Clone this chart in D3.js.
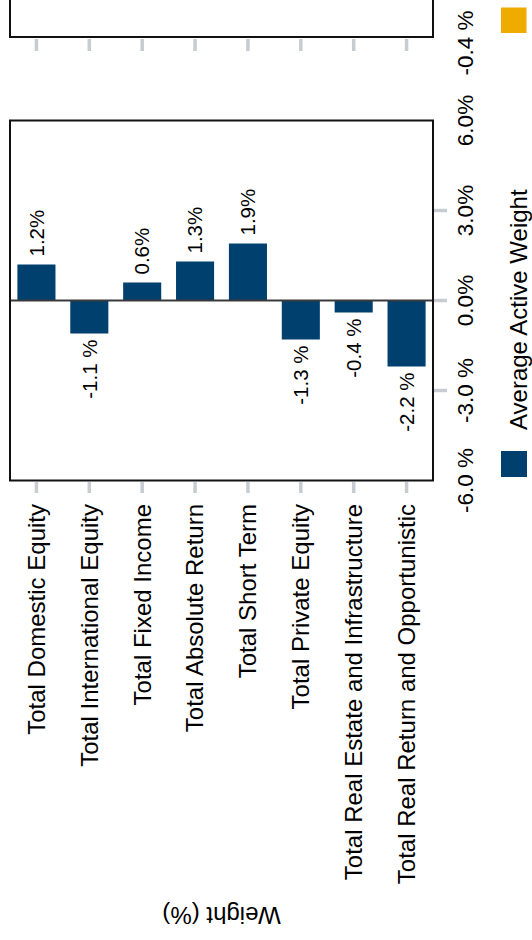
<!DOCTYPE html>
<html>
<head>
<meta charset="utf-8">
<script src="https://cdn.jsdelivr.net/npm/d3@7"></script>
<style>
  html, body { margin: 0; padding: 0; background: #fff; }
  svg { display: block; font-family: "Liberation Sans", Arial, sans-serif; }
</style>
</head>
<body>
<svg id="chart" width="532" height="940"></svg>
<script>
// Asset classes and their average active weight (%)
const categories = [
  "Total Domestic Equity",
  "Total International Equity",
  "Total Fixed Income",
  "Total Absolute Return",
  "Total Short Term",
  "Total Private Equity",
  "Total Real Estate and Infrastructure",
  "Total Real Return and Opportunistic"
];
const activeWeight = [1.2, -1.1, 0.6, 1.3, 1.9, -1.3, -0.4, -2.2];

// Value axis ticks and their labels
const yTicks = [-6, -3, 0, 3, 6];
const yTickLabels = ["-6.0 %", "-3.0 %", "0.0%", "3.0%", "6.0%"];

// Upper panel (only its lower edge is in view)
const upperTickLabel = "-0.4 %";

const seriesNames = ["Average Active Weight"];
const seriesColors = ["#00406F", "#F0AB00"];
const axisTitle = "Weight (%)";

(function draw() {
  const svg = d3.select("#chart");
  svg.append("rect").attr("width", 532).attr("height", 940).attr("fill", "#fff");

  const plotLeft = 10, plotRight = 433, plotTop = 120.5, plotBottom = 480.5;

  const x = d3.scaleBand()
    .domain(categories)
    .range([plotLeft, plotRight])
    .paddingInner(0.28)
    .paddingOuter(0.14);

  const y = d3.scaleLinear().domain([-6, 6]).range([plotBottom, plotTop]);

  const fmt = v => v < 0 ? `${v.toFixed(1)} %` : `${v.toFixed(1)}%`;
  const cx = d => x(d) + x.bandwidth() / 2;

  // ---- upper panel: bottom edge of frame, ticks, label, legend swatch
  svg.append("path")
    .attr("d", `M${plotLeft},-5V37H${plotRight}V-5`)
    .attr("fill", "none").attr("stroke", "#111").attr("stroke-width", 2);

  svg.append("g").selectAll("line")
    .data(categories).join("line")
    .attr("x1", cx).attr("x2", cx)
    .attr("y1", 39).attr("y2", 51)
    .attr("stroke", "#c6ccd2").attr("stroke-width", 3.5);

  svg.append("text")
    .attr("transform", "translate(465,43) rotate(-90)")
    .attr("text-anchor", "middle").attr("dy", "0.35em")
    .attr("font-size", 22.5).attr("fill", "#000")
    .text(upperTickLabel);

  svg.append("rect")
    .attr("x", 501).attr("y", 7.5).attr("width", 25.5).attr("height", 25.5)
    .attr("fill", seriesColors[1]);

  // ---- main panel
  const g = svg.append("g");

  // bars
  g.selectAll("rect.bar")
    .data(categories).join("rect")
    .attr("class", "bar")
    .attr("x", d => x(d))
    .attr("width", x.bandwidth())
    .attr("y", (d, i) => y(Math.max(0, activeWeight[i])))
    .attr("height", (d, i) => Math.abs(y(activeWeight[i]) - y(0)))
    .attr("fill", seriesColors[0]);

  // zero line
  g.append("line")
    .attr("x1", plotLeft).attr("x2", plotRight)
    .attr("y1", y(0)).attr("y2", y(0))
    .attr("stroke", "#3a3a3a").attr("stroke-width", 2);

  // frame
  g.append("rect")
    .attr("x", plotLeft).attr("y", plotTop)
    .attr("width", plotRight - plotLeft).attr("height", plotBottom - plotTop)
    .attr("fill", "none").attr("stroke", "#111").attr("stroke-width", 2);

  // value labels
  g.selectAll("text.val")
    .data(categories).join("text")
    .attr("class", "val")
    .attr("transform", (d, i) => {
      const v = activeWeight[i];
      const yy = v >= 0 ? y(v) - 8 : y(v) + 6;
      return `translate(${cx(d)},${yy}) rotate(-90)`;
    })
    .attr("text-anchor", (d, i) => activeWeight[i] >= 0 ? "start" : "end")
    .attr("dy", "0.35em")
    .attr("font-size", 20.5).attr("fill", "#000")
    .text((d, i) => fmt(activeWeight[i]));

  // value axis ticks (right side)
  g.selectAll("line.ytick")
    .data(yTicks.filter(t => Math.abs(t) < 6)).join("line")
    .attr("class", "ytick")
    .attr("x1", plotRight + 1).attr("x2", plotRight + 14)
    .attr("y1", d => y(d)).attr("y2", d => y(d))
    .attr("stroke", "#c6ccd2").attr("stroke-width", 3.5);

  g.selectAll("text.ylab")
    .data(yTicks).join("text")
    .attr("class", "ylab")
    .attr("transform", d => `translate(465,${y(d)}) rotate(-90)`)
    .attr("text-anchor", "middle").attr("dy", "0.35em")
    .attr("font-size", 22.5).attr("fill", "#000")
    .text((d, i) => yTickLabels[i]);

  // category ticks and labels (bottom)
  g.selectAll("line.xtick")
    .data(categories).join("line")
    .attr("class", "xtick")
    .attr("x1", cx).attr("x2", cx)
    .attr("y1", plotBottom + 1.5).attr("y2", 493)
    .attr("stroke", "#c6ccd2").attr("stroke-width", 3.5);

  g.selectAll("text.xlab")
    .data(categories).join("text")
    .attr("class", "xlab")
    .attr("transform", d => `translate(${cx(d)},504) rotate(-90)`)
    .attr("text-anchor", "end").attr("dy", "0.35em")
    .attr("font-size", 24).attr("fill", "#000")
    .text(d => d);

  // axis title, upside down under the labels
  svg.append("text")
    .attr("transform", `translate(${(plotLeft + plotRight) / 2},907) rotate(180)`)
    .attr("text-anchor", "middle")
    .attr("font-size", 24).attr("fill", "#000")
    .text(axisTitle);

  // legend
  svg.append("rect")
    .attr("x", 501).attr("y", 451).attr("width", 26).attr("height", 26)
    .attr("fill", seriesColors[0]);

  svg.append("text")
    .attr("transform", "translate(519,430) rotate(-90)")
    .attr("text-anchor", "start").attr("dy", "0.35em")
    .attr("font-size", 24).attr("fill", "#000")
    .text(seriesNames[0]);
})();
</script>
</body>
</html>
